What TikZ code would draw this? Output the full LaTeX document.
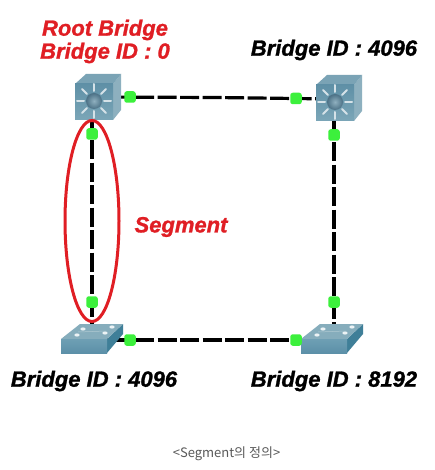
\documentclass[tikz,border=0pt]{standalone}
\usepackage{fontspec}
\setmainfont[BoldItalicFeatures={FakeBold=1.2}]{Liberation Sans}
\newfontfamily\krfont{Noto Sans CJK KR}
\usetikzlibrary{shapes.geometric}
\definecolor{cubefront}{HTML}{5F90A6}
\definecolor{cubefrontb}{HTML}{7BA6B8}
\definecolor{cubetop}{HTML}{7AA3B5}
\definecolor{cubeside}{HTML}{8DB0BF}
\definecolor{ballcol}{HTML}{4C7186}
\definecolor{ballhi}{HTML}{8FB0BF}
\definecolor{raycol}{HTML}{D5E2E8}
\definecolor{swfront}{HTML}{6E9FB4}
\definecolor{swfrontb}{HTML}{5C90A8}
\definecolor{swtop}{HTML}{86ADBC}
\definecolor{swside}{HTML}{3F7F98}
\definecolor{portgreen}{HTML}{3CF03C}
\definecolor{markred}{HTML}{E01E24}
\tikzset{
  x=1pt,y=-1pt,
  devpoint/.style={inner sep=0pt,minimum size=0pt},
  link/.style={draw=black,line width=3.2pt,dash pattern=on 19pt off 3.5pt,dash phase=2pt},
  port/.style={fill=portgreen,rounded corners=2.5pt,inner sep=0pt,minimum size=11.5pt},
  bid/.style={font=\fontsize{22}{24}\selectfont\bfseries\itshape,text=black,inner sep=0pt},
  redlabel/.style={font=\fontsize{22}{23}\selectfont\bfseries\itshape,text=markred,inner sep=0pt,align=center},
  multilayer/.pic={
    \fill[cubeside] (19,-13) -- (27,-23) -- (27,13) -- (19,23) -- cycle;
    \fill[cubetop] (-19,-13) -- (-8,-23) -- (27,-23) -- (19,-13) -- cycle;
    \fill[top color=cubefront,bottom color=cubefrontb] (-19,-13) rectangle (19,23);
    \foreach \a in {0,45,...,315}
      \draw[raycol,line width=2pt,line cap=round] (\a:10)++(0,4) -- ++(\a:7);
    \shade[inner color=ballhi,outer color=ballcol] (0,4) circle (8);
  },
  l2switch/.pic={
    \fill[swside] (15,-1) -- (31,-16) -- (31,-6) -- (15,13) -- cycle;
    \fill[swtop] (-31,-1) -- (-12,-16) -- (31,-16) -- (15,-1) -- cycle;
    \fill[top color=swfront,bottom color=swfrontb] (-31,-1) rectangle (15,13);
    \foreach \p/\q in {-9/-11,20/-13,-15/-5,13/-7}
      \fill[white!85!swtop] (\p,\q) ellipse (2.6 and 1.6);
    \draw[white!35!swtop,line width=.5pt] (-14,-8) -- (14,-9);
  },
}
\begin{document}
\begin{tikzpicture}
\useasboundingbox (0,0) rectangle (435,470);
\fill[white] (0,0) rectangle (435,470);
\node[devpoint] (r1) at (92,97) {};
\node[devpoint] (r2) at (334,99) {};
\node[devpoint] (s1) at (92,340) {};
\node[devpoint] (s2) at (334,340) {};
\coordinate (kink) at (216,97.5);
\draw[link] (r1) -- (kink) -- (r2);
\draw[link] (r1) -- (s1);
\draw[link] (r2) -- (s2);
\draw[link] (s1) -- (s2);
\pic at (94,97) {multilayer};
\pic at (335,98) {multilayer};
\pic at (92,340) {l2switch};
\pic at (332,340) {l2switch};
\node[port] (p1) at (130,97) {};
\node[port] (p2) at (296,98.5) {};
\node[port] (p3) at (92,134) {};
\node[port] (p4) at (334,135) {};
\node[port] (p5) at (92,302) {};
\node[port] (p6) at (334,302) {};
\node[port] (p7) at (130,340) {};
\node[port] (p8) at (296,340) {};
\node[draw=markred,line width=3pt,ellipse,inner sep=0pt,minimum width=54pt,minimum height=201pt] (seg) at (92,221) {};
\node[redlabel] (rootlbl) at (105,41.5) {Root Bridge\\Bridge ID : 0};
\node[redlabel] (seglbl) at (181,227) {Segment};
\node[bid] (b1) at (334,50) {Bridge ID : 4096};
\node[bid] (b2) at (94,381) {Bridge ID : 4096};
\node[bid] (b3) at (334,381) {Bridge ID : 8192};
\node[inner sep=0pt,text=black!65,font=\krfont\fontsize{13}{15}\selectfont] (cap) at (226.5,454) {<Segment의 정의>};
\end{tikzpicture}
\end{document}
